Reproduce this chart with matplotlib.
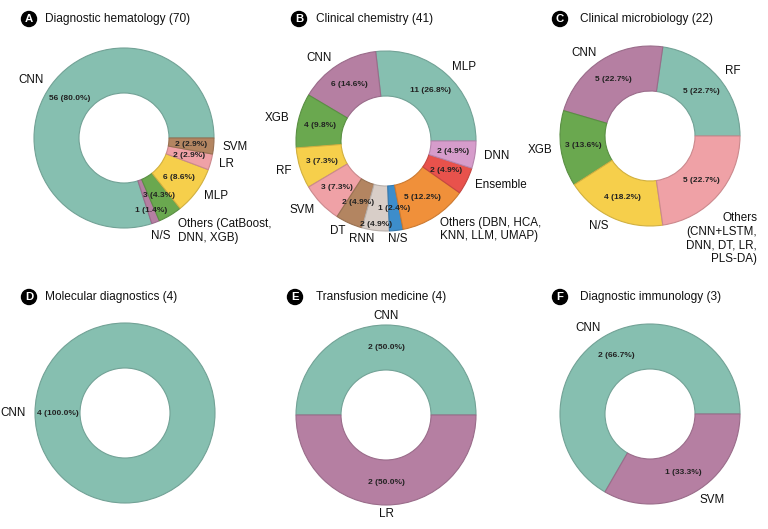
import matplotlib
matplotlib.use("Agg")
import matplotlib.pyplot as plt
import matplotlib.colors as mcolors
import numpy as np

plt.rcParams['font.family'] = ['Liberation Sans', 'DejaVu Sans']

W, H = 768, 529

# colours are handed out by slice position
palette = ['#86bfb0', '#b57fa2', '#6aa84f', '#f6cf4b', '#efa1a6', '#b38561',
           '#d8cec8', '#3d8dcb', '#f0903a', '#e8524c', '#d69ccb']

titles = ['Diagnostic hematology', 'Clinical chemistry', 'Clinical microbiology',
          'Molecular diagnostics', 'Transfusion medicine', 'Diagnostic immunology']
letters = ['A', 'B', 'C', 'D', 'E', 'F']

hema_labels = ['CNN', 'N/S', 'Others (CatBoost,\nDNN, XGB)', 'MLP', 'LR', 'SVM']
hema_counts = [56, 1, 3, 6, 2, 2]

chem_labels = ['MLP', 'CNN', 'XGB', 'RF', 'SVM', 'DT', 'RNN', 'N/S',
               'Others (DBN, HCA,\nKNN, LLM, UMAP)', 'Ensemble', 'DNN']
chem_counts = [11, 6, 4, 3, 3, 2, 2, 1, 5, 2, 2]

micro_labels = ['RF', 'CNN', 'XGB', 'N/S', 'Others\n(CNN+LSTM,\nDNN, DT, LR,\nPLS-DA)']
micro_counts = [5, 5, 3, 4, 5]

mol_labels = ['CNN']
mol_counts = [4]

trans_labels = ['CNN', 'LR']
trans_counts = [2, 2]

immu_labels = ['CNN', 'SVM']
immu_counts = [2, 1]

panels = [
    (hema_labels, hema_counts, 124, 138),
    (chem_labels, chem_counts, 386, 141),
    (micro_labels, micro_counts, 650, 136),
    (mol_labels, mol_counts, 125, 413),
    (trans_labels, trans_counts, 386, 415),
    (immu_labels, immu_counts, 650, 414),
]
title_pos = [(29, 45), (299, 316), (560, 580), (29, 45), (295, 316), (560, 580)]
title_y = [19, 19, 19, 297, 297, 297]

R = 90      # donut outer radius in pixels
HALF = 130  # half size of each axes in pixels

fig = plt.figure(figsize=(W / 100, H / 100), dpi=100)


def darker(c, f=0.8):
    r, g, b = mcolors.to_rgb(c)
    return (r * f, g * f, b * f)


def push_out(t, w, dist):
    # move a percentage label along its wedge's mid angle
    ang = np.deg2rad((w.theta1 + w.theta2) / 2)
    t.set_position((dist * np.cos(ang), dist * np.sin(ang)))


for i, (labels, counts, cx, cy) in enumerate(panels):
    ax = fig.add_axes([(cx - HALF) / W, 1 - (cy + HALF) / H, 2 * HALF / W, 2 * HALF / H])
    total = sum(counts)
    cols = palette[:len(counts)]

    def fmt(p, total=total):
        return f'{int(round(p * total / 100))} ({p:.1f}%)'

    wedges, texts, autotexts = ax.pie(
        counts, labels=labels, colors=cols, startangle=0, counterclock=True,
        autopct=fmt, pctdistance=0.75, labeldistance=1.1,
        wedgeprops=dict(width=0.5, linewidth=0.8),
        textprops=dict(fontsize=8.4, color='#111111'))
    for w, c in zip(wedges, cols):
        w.set_edgecolor(darker(c, 0.85))
    for t in autotexts:
        t.set_fontsize(6)
        t.set_fontweight('bold')
        t.set_color('#222222')
    for t in texts:
        x, y = t.get_position()
        if abs(x) < 0.05:
            t.set_ha('center')

    if i == 0:
        push_out(autotexts[1], wedges[1], 0.86)
        texts[1].set_position((0.30, -1.09))
        texts[2].set_position((0.60, -1.03))
    if i == 1:
        push_out(autotexts[6], wedges[6], 0.93)
        texts[7].set_ha('center')
        x, y = texts[8].get_position()
        texts[8].set_position((x, y - 0.06))
    if i == 2:
        # long "Others" label sits right-aligned under the ring
        t = texts[-1]
        t.set_ha('right')
        t.set_multialignment('right')
        t.set_position((1.19, -1.14))
    ax.set_xlim(-HALF / R, HALF / R)
    ax.set_ylim(-HALF / R, HALF / R)
    ax.axis('off')

    bx, tx = title_pos[i]
    ty = 1 - title_y[i] / H
    fig.text(bx / W, ty, letters[i], ha='center', va='center', fontsize=8.2,
             fontweight='bold', color='white',
             bbox=dict(boxstyle='circle,pad=0.22', fc='black', ec='black'))
    fig.text(tx / W, ty, f'{titles[i]} ({total})', ha='left', va='center',
             fontsize=8.6, color='#111111')

fig.savefig('out.png', dpi=100)
